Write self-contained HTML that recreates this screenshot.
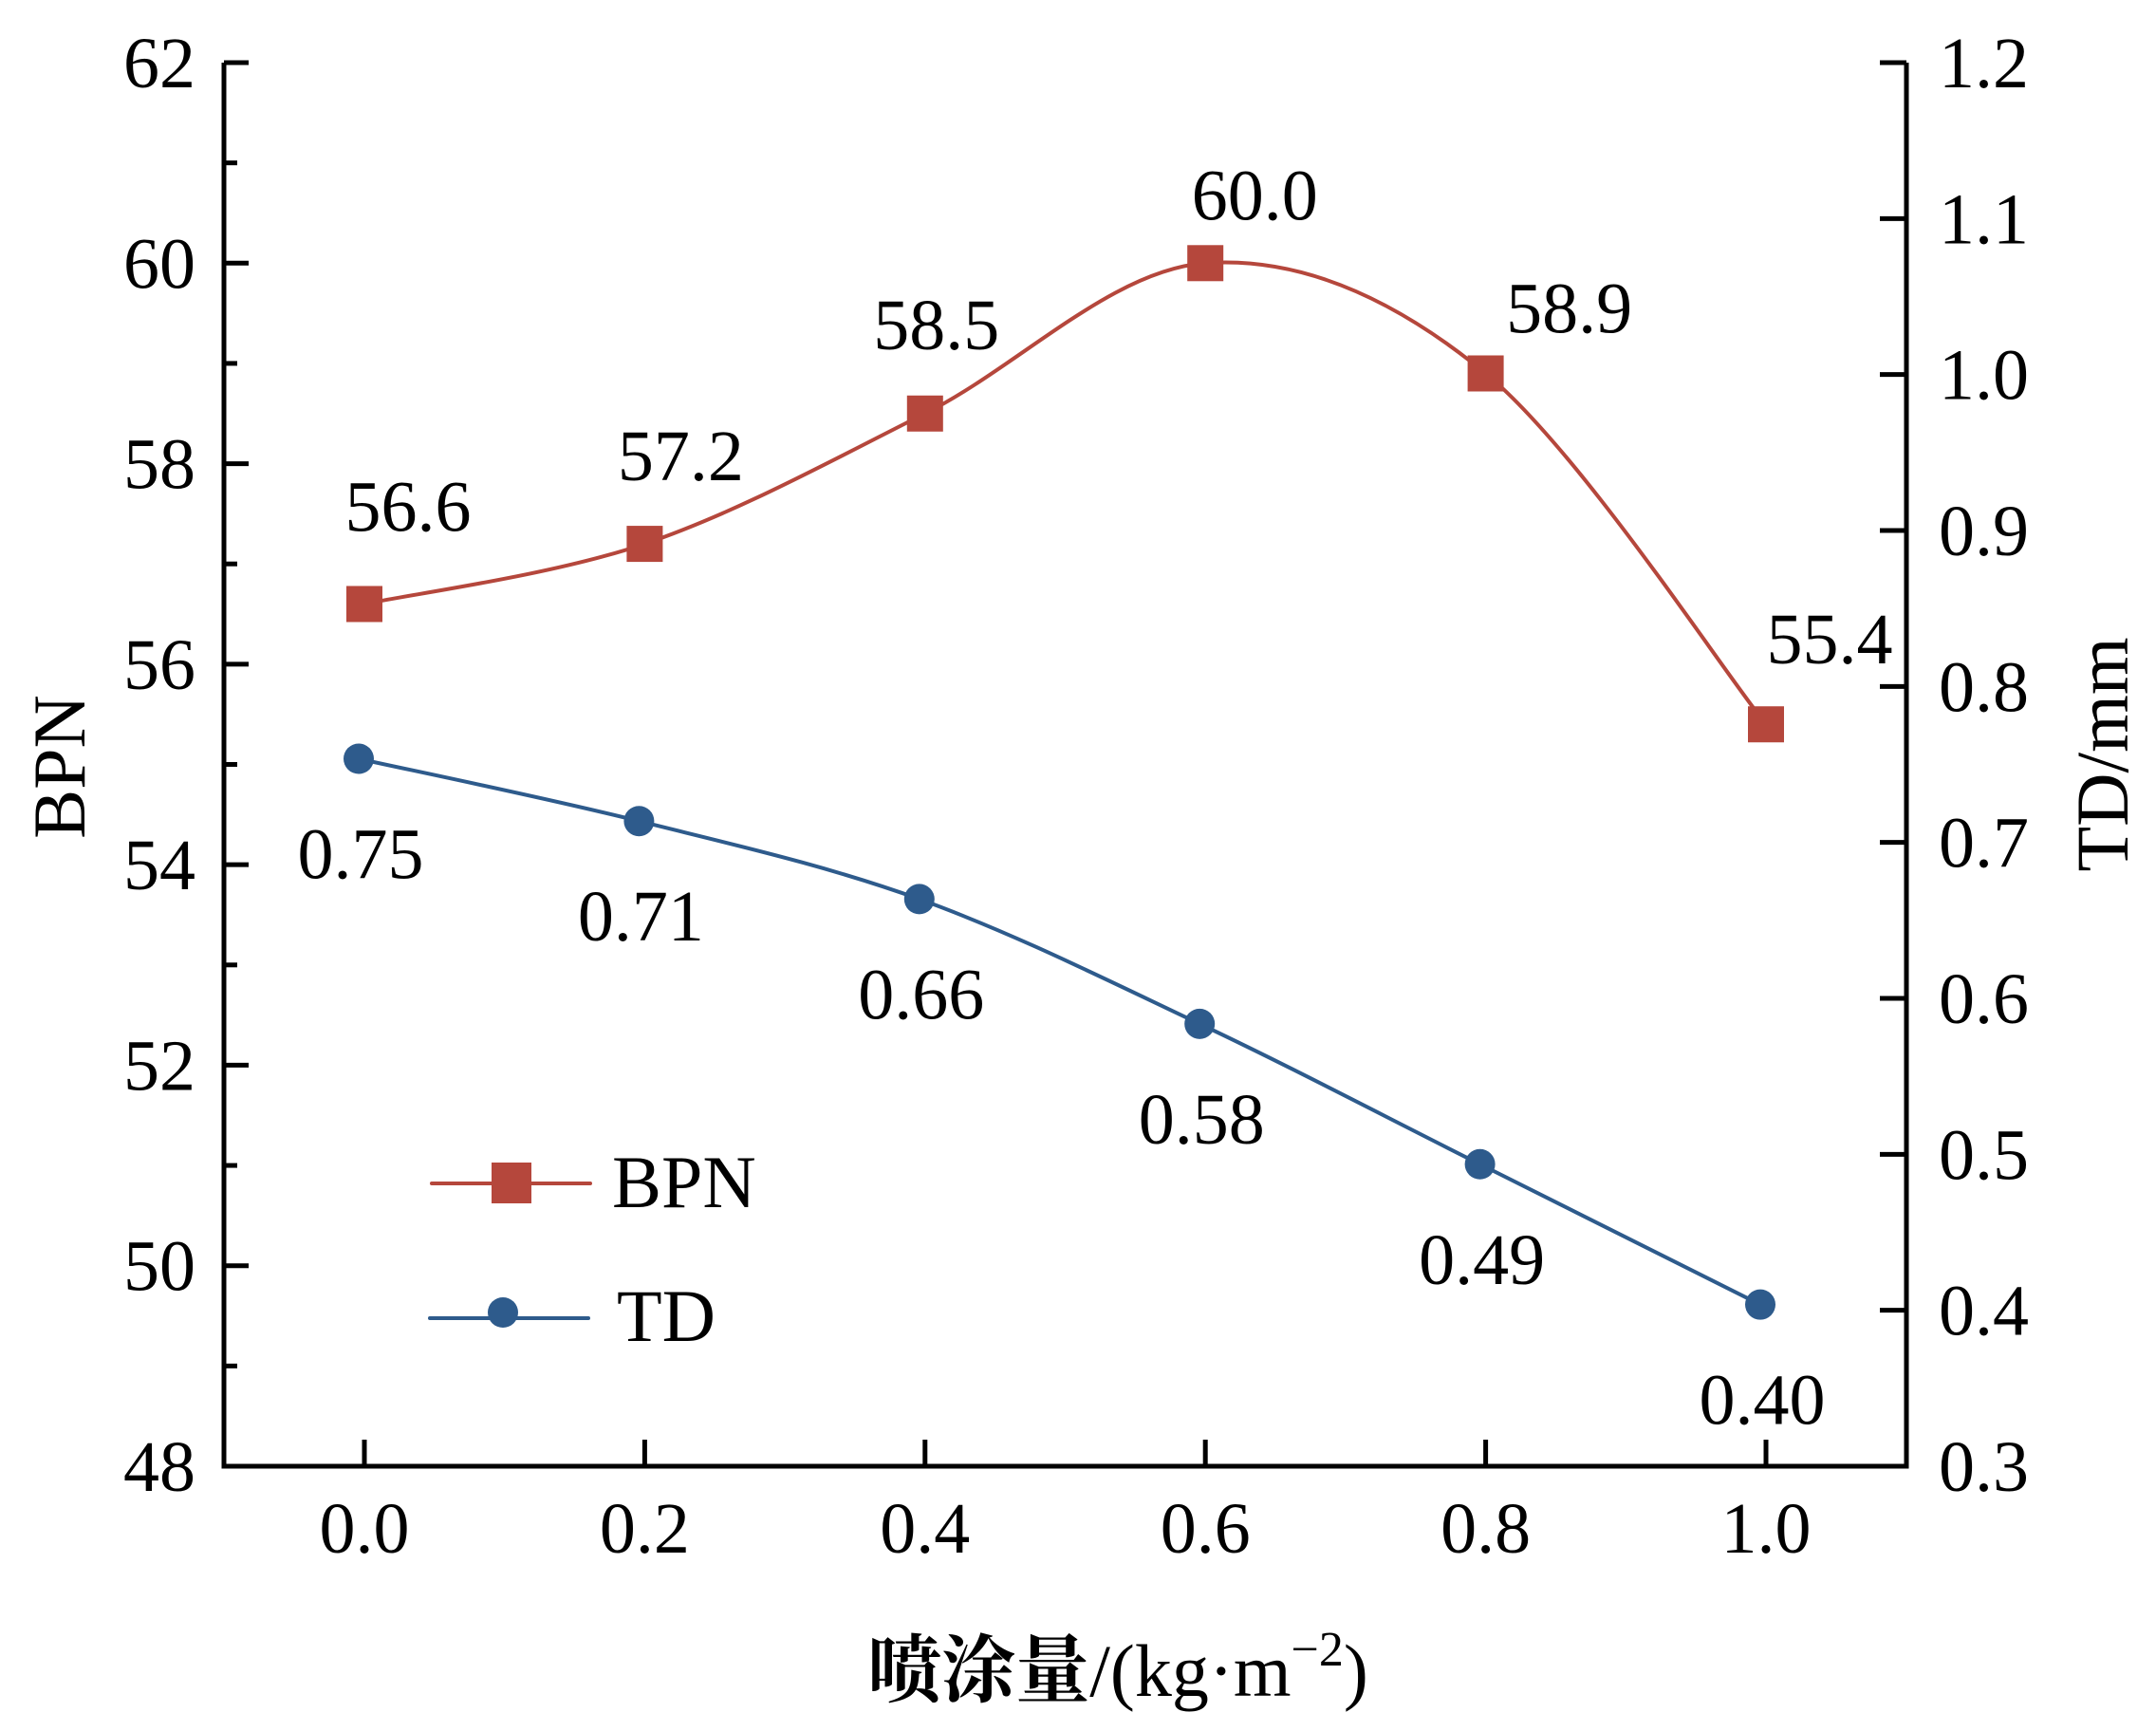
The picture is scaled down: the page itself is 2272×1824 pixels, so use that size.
<!DOCTYPE html>
<html><head><meta charset="utf-8"><style>
html,body{margin:0;padding:0;background:#fff}
svg{display:block}
text{font-family:"Liberation Serif","Noto Serif CJK SC",serif;fill:#000}
</style></head><body>
<svg id="chart" width="2272" height="1824" viewBox="0 0 2272 1824">
<g id="axes"></g>
<g id="series"></g>
</svg>
<script>
const categories = [0.0, 0.2, 0.4, 0.6, 0.8, 1.0];
const bpnValues = [56.6, 57.2, 58.5, 60.0, 58.9, 55.4];
const tdValues = [0.75, 0.71, 0.66, 0.58, 0.49, 0.40];
const bpnLabels = ["56.6", "57.2", "58.5", "60.0", "58.9", "55.4"];
const tdLabels = ["0.75", "0.71", "0.66", "0.58", "0.49", "0.40"];
const xTicks = [0.0, 0.2, 0.4, 0.6, 0.8, 1.0];
const xTickLabels = ["0.0", "0.2", "0.4", "0.6", "0.8", "1.0"];
const leftTicks = [48, 50, 52, 54, 56, 58, 60, 62];
const leftMinor = [49, 51, 53, 55, 57, 59, 61];
const rightTicks = [0.3, 0.4, 0.5, 0.6, 0.7, 0.8, 0.9, 1.0, 1.1, 1.2];

const NS = "http://www.w3.org/2000/svg";
const L = 236, R = 2009, T = 66, B = 1545;
const RED = "#b5473c", BLUE = "#2e5b8c";
const bpnLabelDx = [46, 38, 12, 52, 88, 67];
const bpnLabelDy = [-77, -67, -68, -46, -43, -64];
function sx(v){ return 384 + v * 1477; }
function syL(v){ return B - (v - 48) / 14 * (B - T); }
function syR(v){ return B - (v - 0.3) / 0.9 * (B - T) - 6; }
function mk(tag, attrs, parent){
  const e = document.createElementNS(NS, tag);
  for (const k in attrs) e.setAttribute(k, attrs[k]);
  parent.appendChild(e);
  return e;
}
function txt(s, x, y, size, anchor, parent){
  const t = mk("text", {x: x, y: y, "font-size": size, "text-anchor": anchor}, parent);
  t.textContent = s;
  return t;
}
function smooth(pts){
  let d = "M" + pts[0][0] + "," + pts[0][1];
  for (let i = 0; i < pts.length - 1; i++) {
    const p0 = pts[Math.max(0, i - 1)], p1 = pts[i], p2 = pts[i + 1], p3 = pts[Math.min(pts.length - 1, i + 2)];
    const c1x = p1[0] + (p2[0] - p0[0]) / 6, c1y = p1[1] + (p2[1] - p0[1]) / 6;
    const c2x = p2[0] - (p3[0] - p1[0]) / 6, c2y = p2[1] - (p3[1] - p1[1]) / 6;
    d += " C" + c1x + "," + c1y + " " + c2x + "," + c2y + " " + p2[0] + "," + p2[1];
  }
  return d;
}
const ax = document.getElementById("axes");
const sg = document.getElementById("series");

const frame = mk("path", {d: `M${L},${T} L${L},${B} L${R},${B} L${R},${T}`, fill: "none", stroke: "#000", "stroke-width": 5}, ax);



leftTicks.forEach((v, i) => {
  const y = syL(v);
  const tk = mk("line", {x1: L, x2: L + 26, y1: y, y2: y, stroke: "#000", "stroke-width": 5}, ax);
  
  
  const lb = txt(String(v), 206, y + 26, 76, "end", ax);
  
  
});
leftMinor.forEach(v => {
  const y = syL(v);
  const tk = mk("line", {x1: L, x2: L + 14, y1: y, y2: y, stroke: "#000", "stroke-width": 5}, ax);
  
  
});
rightTicks.forEach(v => {
  const y = B - (v - 0.3) / 0.9 * (B - T);
  const tk = mk("line", {x1: R - 28, x2: R, y1: y, y2: y, stroke: "#000", "stroke-width": 5}, ax);
  
  
  const lb = txt(v.toFixed(1), 2043, y + 26, 76, "start", ax);
  
  
});
xTicks.forEach((v, i) => {
  const x = sx(v);
  const tk = mk("line", {x1: x, x2: x, y1: B - 28, y2: B, stroke: "#000", "stroke-width": 5}, ax);
  
  
  const lb = txt(xTickLabels[i], x, 1636, 76, "middle", ax);
  
  
});

const yl = txt("BPN", 0, 0, 78, "middle", ax);
yl.setAttribute("transform", "translate(89,808) rotate(-90)");


const yr = txt("TD/mm", 0, 0, 78, "middle", ax);
yr.setAttribute("transform", "translate(2242,795) rotate(-90)");


const xt = mk("text", {x: 1178, y: 1787, "font-size": 78, "text-anchor": "middle"}, ax);
xt.innerHTML = '<tspan font-weight="bold" font-family="Noto Serif CJK SC, serif">喷涂量</tspan>/(kg·m<tspan dy="-32" font-size="52">−2</tspan><tspan dy="32">)</tspan>';



const bpnPts = categories.map((c, i) => [sx(c), syL(bpnValues[i])]);
const bl = mk("path", {d: smooth(bpnPts), fill: "none", stroke: RED, "stroke-width": 4}, sg);


bpnPts.forEach((p, i) => {
  const m = mk("rect", {x: p[0] - 19, y: p[1] - 19, width: 38, height: 38, fill: RED}, sg);
  
  
  const lb = txt(bpnLabels[i], p[0] + bpnLabelDx[i], p[1] + bpnLabelDy[i], 76, "middle", sg);
  
  
});
const tdPts = categories.map((c, i) => [sx(c) - 6, syR(tdValues[i])]);
const tl = mk("path", {d: smooth(tdPts), fill: "none", stroke: BLUE, "stroke-width": 4}, sg);


tdPts.forEach((p, i) => {
  const m = mk("circle", {cx: p[0], cy: p[1], r: 16, fill: BLUE}, sg);
  
  
  const lb = txt(tdLabels[i], p[0] + 2, p[1] + 126, 76, "middle", sg);
  
  
});

const lg = mk("g", {}, sg);


const l1 = mk("line", {x1: 455, x2: 622, y1: 1247, y2: 1247, stroke: RED, "stroke-width": 4, "stroke-linecap": "round"}, lg);


const r1 = mk("rect", {x: 518, y: 1225, width: 42, height: 43, fill: RED}, lg);


const t1 = txt("BPN", 645, 1272, 78, "start", lg);


const l2 = mk("line", {x1: 453, x2: 620, y1: 1389, y2: 1389, stroke: BLUE, "stroke-width": 4, "stroke-linecap": "round"}, lg);


const c2 = mk("circle", {cx: 530, cy: 1383, r: 16, fill: BLUE}, lg);


const t2 = txt("TD", 650, 1413, 78, "start", lg);


</script>
</body></html>
